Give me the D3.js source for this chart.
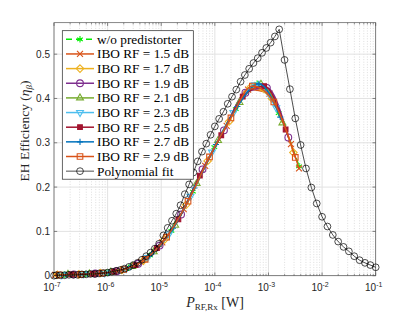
<!DOCTYPE html>
<html>
<head>
<meta charset="utf-8">
<script src="https://cdn.jsdelivr.net/npm/d3@7"></script>
<style>
  body { margin: 0; background: #fff; }
  svg { display: block; }
</style>
</head>
<body>
<div id="chart"></div>
<script>
// received power in dBm, efficiency as fraction
var dbmWo  = [-38.1, -34.1, -30.1, -26.1, -22.1, -18.1, -14.1, -10.1, -6.1, -2.1, 1.9, 5.7];
var effWo  = [0.002, 0.004, 0.007, 0.018, 0.046, 0.101, 0.190, 0.290, 0.376, 0.433, 0.367, 0.247];
var dbm15  = [-39.8, -35.8, -31.8, -27.8, -23.8, -19.8, -15.8, -11.8, -7.8, -3.8, 0.2, 4.2, 5.7];
var eff15  = [0.002, 0.003, 0.005, 0.012, 0.031, 0.075, 0.150, 0.248, 0.338, 0.420, 0.411, 0.297, 0.242];
var dbm17  = [-39.35, -35.35, -31.35, -27.35, -23.35, -19.35, -15.35, -11.35, -7.35, -3.35, 0.65, 4.65];
var eff17  = [0.002, 0.003, 0.006, 0.013, 0.034, 0.082, 0.160, 0.259, 0.348, 0.425, 0.400, 0.278];
var dbm19  = [-36.3, -32.3, -28.3, -24.3, -20.3, -16.3, -12.3, -8.3, -4.3, -0.3, 3.7];
var eff19  = [0.003, 0.005, 0.010, 0.027, 0.068, 0.138, 0.240, 0.328, 0.413, 0.424, 0.312];
var dbm21  = [-37.4, -33.4, -29.4, -25.4, -21.4, -17.4, -13.4, -9.4, -5.4, -1.4, 2.6];
var eff21  = [0.003, 0.004, 0.008, 0.021, 0.054, 0.114, 0.208, 0.305, 0.391, 0.432, 0.345];
var dbm23  = [-38.55, -34.55, -30.55, -26.55, -22.55, -18.55, -14.55, -10.55, -6.55, -2.55, 1.45];
var eff23  = [0.002, 0.004, 0.006, 0.016, 0.041, 0.094, 0.179, 0.279, 0.368, 0.431, 0.379];
var dbm25  = [-36.8, -32.8, -28.8, -24.8, -20.8, -16.8, -12.8, -8.8, -4.8, -0.8, 3.2];
var eff25  = [0.003, 0.004, 0.009, 0.024, 0.062, 0.127, 0.226, 0.317, 0.404, 0.428, 0.330];
var dbm27  = [-37.8, -33.8, -29.8, -25.8, -21.8, -17.8, -13.8, -9.8, -5.8, -1.8, 2.2];
var eff27  = [0.002, 0.004, 0.007, 0.019, 0.049, 0.107, 0.198, 0.296, 0.382, 0.433, 0.358];
var dbm29  = [-39, -35, -31, -27, -23, -19, -15, -11, -7, -3, 1, 5];
var eff29  = [0.002, 0.003, 0.006, 0.014, 0.037, 0.087, 0.168, 0.268, 0.356, 0.428, 0.392, 0.267];

var dbmFit = [-40, -39.6, -38.8, -38, -37.2, -36.4, -35.6, -34.8, -34, -33.2, -32.4, -31.6, -30.8, -30,
  -29.2, -28.4, -27.6, -26.8, -26, -25.2, -24.4, -23.6, -22.8, -22, -21.2, -20.4, -19.6, -18.8, -18,
  -17.2, -16.4, -15.6, -14.8, -14, -13.2, -12.4, -11.6, -10.8, -10, -9.2, -8.4, -7.6, -6.8, -6, -5.2,
  -4.4, -3.6, -2.8, -2, -1.2, -0.4, 0.4, 1.2, 2,
  3, 4, 5, 6, 7, 8, 9, 10, 11, 12, 13, 14, 15, 16, 17, 18, 19, 20];
var effFit = [0.000, 0.001, 0.001, 0.001, 0.002, 0.002, 0.002, 0.003, 0.003, 0.004, 0.004, 0.005, 0.006, 0.007,
  0.009, 0.011, 0.013, 0.016, 0.020, 0.024, 0.029, 0.036, 0.044, 0.052, 0.061, 0.072, 0.091, 0.108, 0.124,
  0.140, 0.159, 0.184, 0.206, 0.233, 0.258, 0.280, 0.298, 0.318, 0.337, 0.354, 0.370, 0.388, 0.404, 0.420, 0.438,
  0.453, 0.467, 0.480, 0.491, 0.503, 0.514, 0.526, 0.540, 0.556,
  0.487, 0.421, 0.355, 0.295, 0.242, 0.199, 0.163, 0.133, 0.111, 0.092, 0.077, 0.065, 0.055, 0.044, 0.035, 0.029, 0.024, 0.019];

var seriesNames = ["w/o predistorter", "IBO RF = 1.5 dB", "IBO RF = 1.7 dB", "IBO RF = 1.9 dB",
  "IBO RF = 2.1 dB", "IBO RF = 2.3 dB", "IBO RF = 2.5 dB", "IBO RF = 2.7 dB", "IBO RF = 2.9 dB", "Polynomial fit"];
var seriesX = [dbmWo, dbm15, dbm17, dbm19, dbm21, dbm23, dbm25, dbm27, dbm29, dbmFit];
var seriesY = [effWo, eff15, eff17, eff19, eff21, eff23, eff25, eff27, eff29, effFit];
var colors = ["#00ee00", "#D95319", "#EDB120", "#7E2F8E", "#77AC30", "#4DBEEE", "#A2142F", "#0072BD", "#D95319", "#000000"];
var markers = ["asterisk", "times", "diamond", "circle", "triUp", "triDown", "squareFill", "plus", "square", "circle"];

var yTicks = [0, 0.1, 0.2, 0.3, 0.4, 0.5];

var svgWidth = 415, svgHeight = 312;
var plot = { left: 54, top: 22.7, right: 375.7, bottom: 275.7 };

var svg = d3.select("#chart").append("svg")
    .attr("width", svgWidth)
    .attr("height", svgHeight);

var x = d3.scaleLog().domain([1e-7, 1e-1]).range([plot.left, plot.right]);
var y = d3.scaleLinear().domain([0, 0.571]).range([plot.bottom, plot.top]);

function toWatt(dbm) { return Math.pow(10, (dbm - 30) / 10); }

var allTicks = x.ticks();
var majorX = allTicks.filter(function(t) { return Math.abs(Math.log10(t) - Math.round(Math.log10(t))) < 1e-9; });
var minorX = allTicks.filter(function(t) { return majorX.indexOf(t) < 0; });

// grid
var grid = svg.append("g");
grid.selectAll("line.minor").data(minorX).enter().append("line")
    .attr("x1", d => x(d)).attr("x2", d => x(d))
    .attr("y1", plot.top).attr("y2", plot.bottom)
    .attr("stroke", "#c8c8c8").attr("stroke-width", 0.6).attr("stroke-dasharray", "1,1.6");
grid.selectAll("line.majx").data(majorX).enter().append("line")
    .attr("x1", d => x(d)).attr("x2", d => x(d))
    .attr("y1", plot.top).attr("y2", plot.bottom)
    .attr("stroke", "#e2e2e2").attr("stroke-width", 1);
grid.selectAll("line.majy").data(yTicks).enter().append("line")
    .attr("x1", plot.left).attr("x2", plot.right)
    .attr("y1", d => y(d)).attr("y2", d => y(d))
    .attr("stroke", "#e2e2e2").attr("stroke-width", 1);

// axes box + ticks
var axisColor = "#555";
var ax = svg.append("g");
ax.append("rect")
    .attr("x", plot.left).attr("y", plot.top)
    .attr("width", plot.right - plot.left).attr("height", plot.bottom - plot.top)
    .attr("fill", "none").attr("stroke", axisColor).attr("stroke-width", 0.7);

[plot.bottom, plot.top].forEach(function(edge) {
  var dir = edge === plot.bottom ? -1 : 1;
  ax.selectAll(null).data(majorX).enter().append("line")
      .attr("x1", d => x(d)).attr("x2", d => x(d))
      .attr("y1", edge).attr("y2", edge + dir * 3.2)
      .attr("stroke", axisColor).attr("stroke-width", 0.7);
  ax.selectAll(null).data(minorX).enter().append("line")
      .attr("x1", d => x(d)).attr("x2", d => x(d))
      .attr("y1", edge).attr("y2", edge + dir * 1.8)
      .attr("stroke", axisColor).attr("stroke-width", 0.6);
});
[plot.left, plot.right].forEach(function(edge) {
  var dir = edge === plot.left ? 1 : -1;
  ax.selectAll(null).data(yTicks).enter().append("line")
      .attr("x1", edge).attr("x2", edge + dir * 3.2)
      .attr("y1", d => y(d)).attr("y2", d => y(d))
      .attr("stroke", axisColor).attr("stroke-width", 0.7);
});

// tick labels
var tickFont = "'Liberation Sans', Arial, sans-serif";
svg.append("g").selectAll("text").data(yTicks).enter().append("text")
    .attr("x", plot.left - 4).attr("y", d => y(d) + 3.5)
    .attr("text-anchor", "end")
    .attr("font-family", tickFont).attr("font-size", 10).attr("fill", "#262626")
    .text(d => d === 0 ? "0" : d3.format(".1f")(d));

var xl = svg.append("g").selectAll("text").data(majorX).enter().append("text")
    .attr("x", d => x(d) - 2).attr("y", 290.5)
    .attr("text-anchor", "middle")
    .attr("font-family", tickFont).attr("font-size", 10).attr("fill", "#262626");
xl.append("tspan").text("10");
xl.append("tspan").attr("dy", -4).attr("font-size", 7).text(d => "-" + Math.round(-Math.log10(d)));

// axis labels
var serif = "'Liberation Serif', 'Times New Roman', serif";
var xLab = svg.append("text")
    .attr("x", 215).attr("y", 306.5)
    .attr("text-anchor", "middle")
    .attr("font-family", serif).attr("font-size", 14).attr("fill", "#262626");
xLab.append("tspan").attr("font-style", "italic").text("P");
xLab.append("tspan").attr("font-size", 9).attr("dy", 3).text("RF,Rx");
xLab.append("tspan").attr("dy", -3).text(" [W]");

var yLab = svg.append("text")
    .attr("transform", "translate(29,131) rotate(-90)")
    .attr("text-anchor", "middle")
    .attr("font-family", serif).attr("font-size", 13.5).attr("fill", "#262626");
yLab.append("tspan").text("EH Efficiency (");
yLab.append("tspan").attr("font-style", "italic").text("η");
yLab.append("tspan").attr("font-style", "italic").attr("font-size", 9).attr("dy", 3).text("β");
yLab.append("tspan").attr("dy", -3).text(")");

// markers
function markerPath(type) {
  var s = {
    asterisk: d3.symbol(d3.symbolAsterisk, 30),
    times: d3.symbol(d3.symbolTimes, 25),
    diamond: d3.symbol(d3.symbolDiamond2, 36),
    circle: d3.symbol(d3.symbolCircle, 36),
    triUp: d3.symbol(d3.symbolTriangle2, 34),
    triDown: d3.symbol(d3.symbolTriangle2, 34),
    squareFill: d3.symbol(d3.symbolSquare, 22),
    plus: d3.symbol(d3.symbolPlus, 14),
    square: d3.symbol(d3.symbolSquare2, 40)
  };
  return s[type]();
}
function drawMarker(g, type, color, cx, cy, sw) {
  var p = g.append("path")
      .attr("d", markerPath(type))
      .attr("transform", "translate(" + cx + "," + cy + ")" + (type === "triDown" ? " rotate(180)" : ""))
      .attr("stroke", color)
      .attr("stroke-width", sw)
      .attr("fill", type === "squareFill" ? color : "none");
  return p;
}

var line = d3.line()
    .x(d => x(toWatt(d[0])))
    .y(d => y(d[1]))
    .curve(d3.curveMonotoneX);

var dataG = svg.append("g");
seriesNames.forEach(function(name, i) {
  var pts = seriesX[i].map(function(v, j) { return [v, seriesY[i][j]]; });
  var isFit = i === seriesNames.length - 1;
  var g = dataG.append("g");
  g.append("path")
      .datum(pts)
      .attr("d", isFit ? line.curve(d3.curveLinear) : line.curve(d3.curveMonotoneX))
      .attr("fill", "none")
      .attr("stroke", colors[i])
      .attr("stroke-width", isFit ? 0.7 : 1.5)
      .attr("stroke-dasharray", i === 0 ? "6,4" : null);
  pts.forEach(function(p) {
    drawMarker(g, markers[i], colors[i], x(toWatt(p[0])), y(p[1]), isFit ? 0.7 : 1.1);
  });
});

// legend
var leg = svg.append("g");
leg.append("rect")
    .attr("x", 62.3).attr("y", 30.7).attr("width", 131).attr("height", 148.5)
    .attr("fill", "#fff").attr("stroke", "#262626").attr("stroke-width", 0.7);
seriesNames.forEach(function(name, i) {
  var ly = 39.3 + 14.65 * i;
  var isFit = i === seriesNames.length - 1;
  leg.append("line")
      .attr("x1", 66).attr("x2", 94).attr("y1", ly).attr("y2", ly)
      .attr("stroke", colors[i]).attr("stroke-width", isFit ? 0.7 : 1.5)
      .attr("stroke-dasharray", i === 0 ? "6,4" : null);
  drawMarker(leg, markers[i], colors[i], 80, ly, isFit ? 0.7 : 1.1);
  leg.append("text")
      .attr("x", 97).attr("y", ly + 4.5)
      .attr("font-family", serif).attr("font-size", 13.3).attr("fill", "#000")
      .text(name);
});
</script>
</body>
</html>
